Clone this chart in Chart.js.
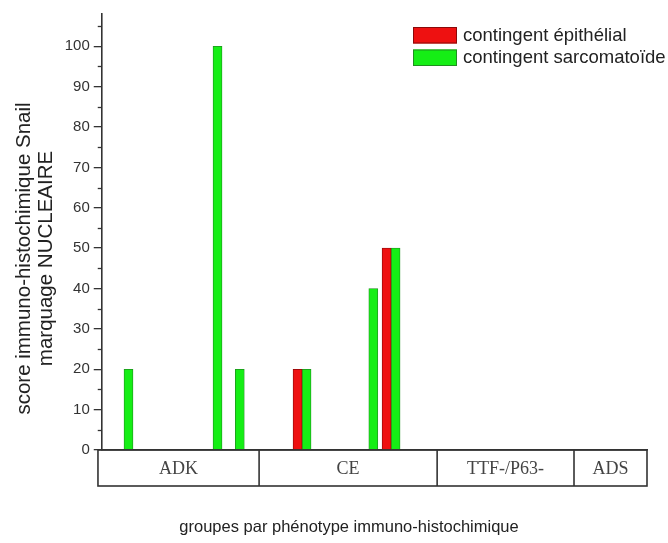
<!DOCTYPE html>
<html><head><meta charset="utf-8">
<script src="https://cdn.jsdelivr.net/npm/chart.js@4.4.1/dist/chart.umd.min.js"></script>
<style>html,body{margin:0;padding:0;background:#fff;} canvas{display:block;}</style>
</head><body>
<canvas id="c" width="668" height="543"></canvas>
<script>
// ---- data ----
const caseIndex = [1, 5, 6, 9, 12, 13];
const epithelial = [null, null, null, 20, null, 50];
const sarcomatoid = [20, 100, 20, 20, 40, 50];
const seriesLabels = ['contingent épithélial', 'contingent sarcomatoïde'];
const groupLabels = ['ADK', 'CE', 'TTF-/P63-', 'ADS'];
const groupBounds = [-0.17, 7.07, 15.07, 21.22, 24.5];
const yTitle = ['score immuno-histochimique Snail', 'marquage NUCLEAIRE'];
const xTitle = 'groupes par phénotype immuno-histochimique';

const SANS = '"Liberation Sans", Arial, sans-serif';
const SERIF = '"Liberation Serif", "Times New Roman", serif';

const decor = {
  id: 'decor',
  afterDraw(chart) {
    const ctx = chart.ctx, xs = chart.scales.x, ys = chart.scales.y, ca = chart.chartArea;
    ctx.save();
    // minor ticks
    ctx.strokeStyle = '#333'; ctx.lineWidth = 1.3;
    for (let v = 5; v < ys.max; v += 10) {
      const y = Math.round(ys.getPixelForValue(v)) + 0.5;
      ctx.beginPath(); ctx.moveTo(ca.left - 4, y); ctx.lineTo(ca.left, y); ctx.stroke();
    }
    // group table
    const top = ys.getPixelForValue(0), bot = top + 36;
    const px = groupBounds.map(b => xs.getPixelForValue(b));
    ctx.lineWidth = 1.6; ctx.strokeStyle = '#333';
    ctx.strokeRect(px[0], top, px[px.length - 1] - px[0], bot - top);
    for (let i = 1; i < px.length - 1; i++) {
      ctx.beginPath(); ctx.moveTo(px[i], top); ctx.lineTo(px[i], bot); ctx.stroke();
    }
    ctx.font = '18px ' + SERIF; ctx.fillStyle = '#444';
    ctx.textAlign = 'center'; ctx.textBaseline = 'middle';
    groupLabels.forEach((g, i) => ctx.fillText(g, (px[i] + px[i + 1]) / 2, (top + bot) / 2 + 1));
    // x title
    ctx.font = '16.5px ' + SANS; ctx.fillStyle = '#222';
    ctx.fillText(xTitle, 349, 527);
    // legend
    const ds = chart.data.datasets;
    ctx.textAlign = 'left'; ctx.textBaseline = 'middle'; ctx.font = '18.5px ' + SANS;
    ds.forEach((d, i) => {
      const y0 = 27 + i * 22.5;
      ctx.fillStyle = d.backgroundColor; ctx.fillRect(413, y0, 44, 16.5);
      ctx.strokeStyle = d.borderColor; ctx.lineWidth = 1; ctx.strokeRect(413.5, y0 + 0.5, 43, 15.5);
      ctx.fillStyle = '#222'; ctx.fillText(d.label, 463, y0 + 8.5);
    });
    // y title
    ctx.translate(0, 258.5); ctx.rotate(-Math.PI / 2);
    ctx.textAlign = 'center'; ctx.textBaseline = 'alphabetic'; ctx.font = '20.5px ' + SANS;
    ctx.fillStyle = '#222';
    ctx.fillText(yTitle[0], 0, 30);
    ctx.fillText(yTitle[1], 0, 52);
    ctx.restore();
  }
};

new Chart(document.getElementById('c'), {
  type: 'bar',
  data: {
    datasets: [
      { label: seriesLabels[0], data: caseIndex.map((c, i) => ({ x: c, y: epithelial[i] })),
        backgroundColor: '#ee1111', borderColor: '#8a0a0a', borderWidth: 0.8 },
      { label: seriesLabels[1], data: caseIndex.map((c, i) => ({ x: c, y: sarcomatoid[i] })),
        backgroundColor: '#15ee15', borderColor: '#1f8f1f', borderWidth: 0.8 }
    ]
  },
  options: {
    responsive: false, animation: false, devicePixelRatio: 1,
    barThickness: 9,
    layout: { padding: { top: 14, bottom: 93, right: 21, left: 0 } },
    plugins: { legend: { display: false }, tooltip: { enabled: false } },
    scales: {
      x: {
        type: 'linear', min: 0, max: 24.5, offset: false,
        grid: { display: false, offset: false },
        ticks: { display: false },
        border: { display: true, color: '#333', width: 1.6 },
        afterFit: s => { s.height = 0; }
      },
      y: {
        min: 0, max: 108,
        ticks: { stepSize: 10, includeBounds: false, padding: 4, color: '#333', font: { family: SANS, size: 15 } },
        grid: { drawOnChartArea: false, drawTicks: true, tickLength: 8, color: '#333', lineWidth: 1.3 },
        border: { display: true, color: '#333', width: 1.6 },
        afterFit: s => { s.width = 101.75; }
      }
    }
  },
  plugins: [decor]
});
</script>
</body></html>
